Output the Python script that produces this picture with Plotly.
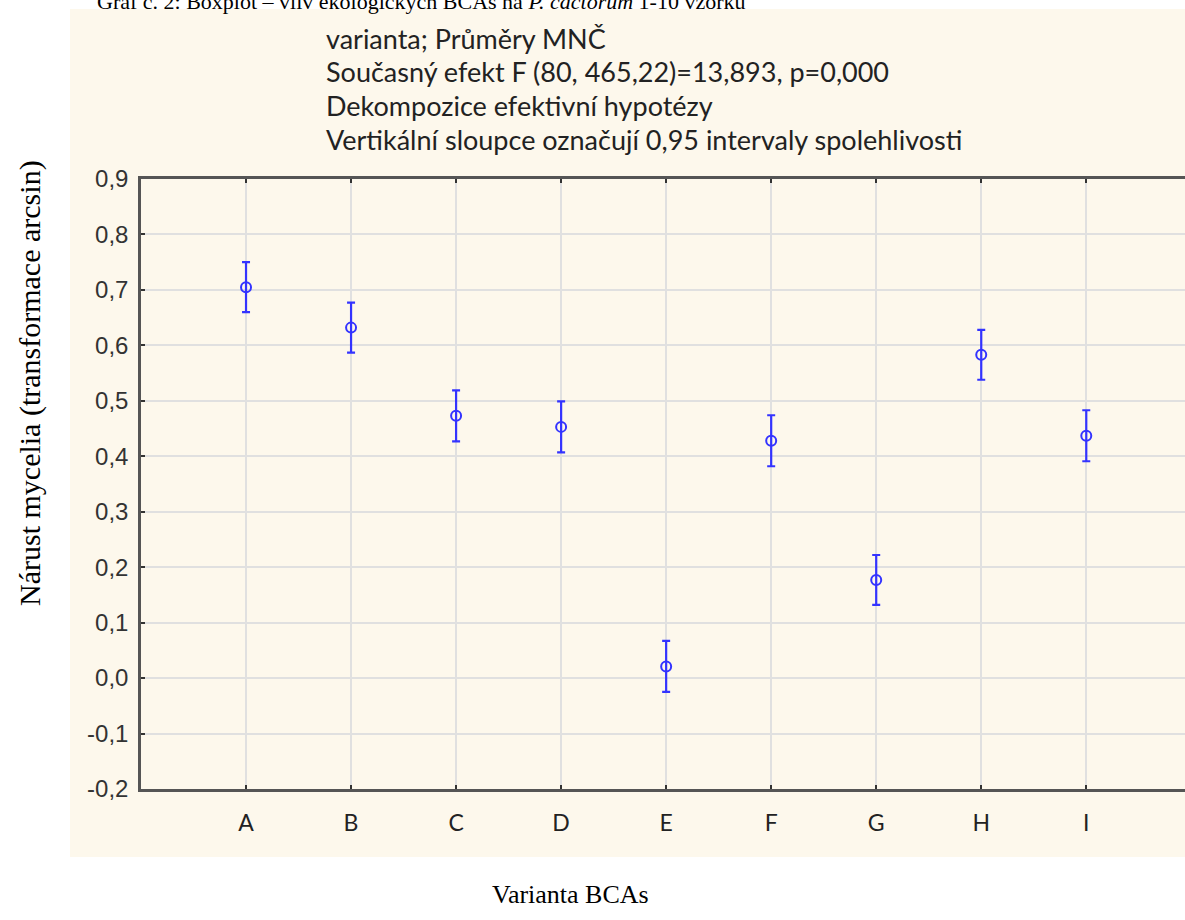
import plotly.graph_objects as go

categories = ["A", "B", "C", "D", "E", "F", "G", "H", "I"]
means = [0.705, 0.632, 0.473, 0.453, 0.021, 0.428, 0.177, 0.583, 0.437]
ci_half = [0.045, 0.045, 0.046, 0.046, 0.046, 0.046, 0.045, 0.045, 0.046]
y_ticks = [-0.2, -0.1, 0.0, 0.1, 0.2, 0.3, 0.4, 0.5, 0.6, 0.7, 0.8, 0.9]
y_ticktext = [f"{v:.1f}".replace(".", ",") for v in y_ticks]

header_lines = [
    "varianta; Průměry MNČ",
    "Současný efekt F (80, 465,22)=13,893, p=0,000",
    "Dekompozice efektivní hypotézy",
    "Vertikální sloupce označují 0,95 intervaly spolehlivosti",
]

W, H = 1185, 920
L, R, T, B = 141, 0, 179, 131
pw = W - L - R
ph = H - T - B

def px_x(x):
    return (x - L) / pw

def px_y(y):
    return (H - B - y) / ph

blue = "#3333ff"
sans = "Lato, Liberation Sans, Arial, sans-serif"
serif = "Liberation Serif, Times New Roman, serif"

fig = go.Figure()
fig.add_trace(go.Scatter(
    x=list(range(len(categories))),
    y=means,
    mode="markers",
    marker=dict(symbol="circle-open", size=10, color=blue, line=dict(width=2, color=blue)),
    error_y=dict(type="data", array=ci_half, visible=True, color=blue, thickness=2.2, width=4),
    showlegend=False,
))

# beige background panel
fig.add_shape(type="rect", xref="paper", yref="paper",
              x0=px_x(70), x1=1.0, y0=px_y(857), y1=px_y(9),
              fillcolor="#fdf8ec", line=dict(width=0), layer="below")

for i, line in enumerate(header_lines):
    fig.add_annotation(text=line, xref="paper", yref="paper",
                       x=px_x(324), y=px_y(38 + i * 33.7), xanchor="left", yanchor="middle",
                       showarrow=False,
                       font=dict(family=sans, size=27, color="#222"))

# partially cut-off caption at the very top
fig.add_annotation(text="Graf č. 2: Boxplot – vliv ekologických BCAs na <i>P. cactorum</i> 1-10 vzorků",
                   xref="paper", yref="paper", x=px_x(95), y=px_y(16),
                   xanchor="left", yanchor="bottom", showarrow=False,
                   font=dict(family=serif, size=22, color="#000"))

fig.add_annotation(text="Nárust mycelia (transformace arcsin)", xref="paper", yref="paper",
                   x=px_x(30), y=px_y(383), textangle=-90, showarrow=False,
                   xanchor="center", yanchor="middle",
                   font=dict(family=serif, size=30, color="#000"))

fig.add_annotation(text="Varianta BCAs", xref="paper", yref="paper",
                   x=px_x(570), y=px_y(894), showarrow=False,
                   xanchor="center", yanchor="middle",
                   font=dict(family=serif, size=26, color="#000"))

fig.update_layout(
    width=W, height=H,
    margin=dict(l=L, r=R, t=T, b=B, pad=0),
    paper_bgcolor="white",
    plot_bgcolor="white",
    xaxis=dict(
        range=[-1, 8.94],
        tickmode="array",
        tickvals=list(range(len(categories))),
        ticktext=categories,
        showgrid=True, gridcolor="#e0e0e0", gridwidth=1.5,
        showline=True, linecolor="#555", linewidth=2.5, mirror="ticks",
        ticks="inside", ticklen=4, tickcolor="#333", tickwidth=1.5,
        ticklabelstandoff=12,
        tickfont=dict(family=sans, size=23, color="#222"),
        zeroline=False,
        fixedrange=True,
    ),
    yaxis=dict(
        range=[-0.2, 0.9],
        tickmode="array",
        tickvals=y_ticks,
        ticktext=y_ticktext,
        showgrid=True, gridcolor="#e0e0e0", gridwidth=1.5,
        showline=True, linecolor="#555", linewidth=2.5, mirror=False,
        ticks="inside", ticklen=4, tickcolor="#333", tickwidth=1.5,
        ticklabelstandoff=5,
        tickfont=dict(family="Liberation Sans, Arial, sans-serif", size=24, color="#333"),
        zeroline=False,
        fixedrange=True,
    ),
)

fig.write_html("out.html", config={"displayModeBar": False},
               post_script="document.body.style.margin='0';document.body.style.overflow='hidden';")
